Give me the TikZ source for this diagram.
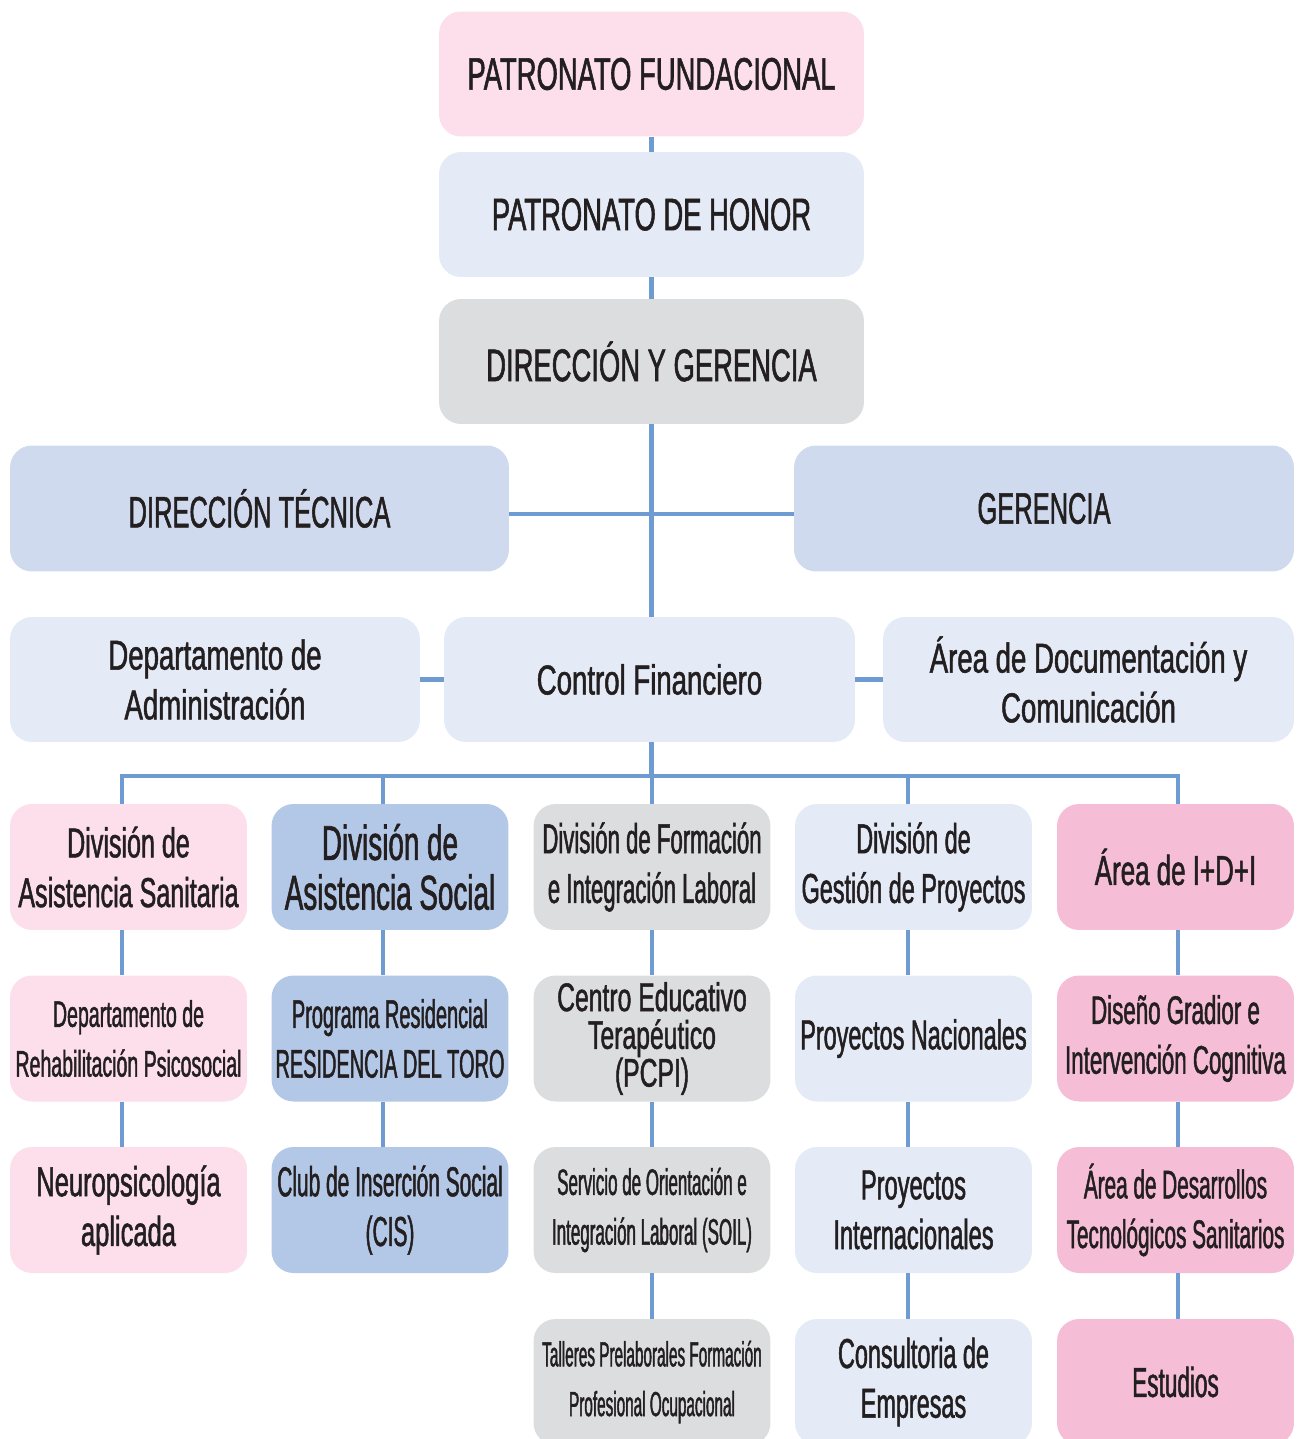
\documentclass[tikz,border=0pt]{standalone}
\usepackage{fontspec}
\setmainfont{Liberation Sans}[FakeBold=1.2]
\newcommand\ff[3]{\fontsize{#1}{#3}\selectfont\addfontfeature{FakeStretch=#2}}
\definecolor{pinkL}{HTML}{FCDFEA}
\definecolor{pinkD}{HTML}{F6BDD6}
\definecolor{blueL}{HTML}{E4EAF6}
\definecolor{blueM}{HTML}{CFDAEE}
\definecolor{blueD}{HTML}{B3C7E6}
\definecolor{grayL}{HTML}{DCDDDF}
\definecolor{linec}{HTML}{6F9BD3}
\definecolor{ink}{HTML}{231F20}
\begin{document}
\begin{tikzpicture}[x=0.02cm,y=-0.02cm,
    box/.style={rounded corners=0.44cm, minimum width=4.74cm, minimum height=2.52cm,
        align=center, inner sep=0pt, text=ink},
    wide/.style={box, minimum width=8.5cm, minimum height=2.5cm, font=\ff{26pt}{0.6}{30pt}},
    mid/.style={box, minimum width=8.2cm, minimum height=2.5cm, fill=blueL, font=\ff{23.8pt}{0.66}{28.3pt}},
    link/.style={draw=linec, line width=2.3pt}]
    \useasboundingbox (0,0) rectangle (1300,1439);
    \clip (0,0) rectangle (1300,1439);
    % top
    \node[wide, fill=pinkL] (pf) at (651.5,74) {PATRONATO FUNDACIONAL};
    \node[wide, fill=blueL] (ph) at (651.5,214.5) {PATRONATO DE HONOR};
    \node[wide, fill=grayL] (dg) at (651.5,361.5) {DIRECCIÓN Y GERENCIA};
    \node[box, minimum width=9.98cm, fill=blueM, font=\ff{25pt}{0.58}{30pt}] (dt) at (259.5,508.5) {DIRECCIÓN TÉCNICA};
    \node[box, minimum width=10cm, fill=blueM, font=\ff{25pt}{0.58}{30pt}] (ger) at (1044,508.5) {GERENCIA};
    \node[mid] (adm) at (215,679.5) {Departamento de\\Administración};
    \node[mid, minimum width=8.22cm] (cf) at (649.5,679.5) {Control Financiero};
    \node[mid, minimum width=8.22cm] (doc) at (1088.5,679.5) {Área de Documentación y\\Comunicación};
    % columns
    \node[box, fill=pinkL, font=\ff{23.8pt}{0.6}{28.3pt}] (sanit) at (128.5,867) {División de\\Asistencia Sanitaria};
    \node[box, fill=pinkL, font=\ff{21pt}{0.53}{28.3pt}] (rehab) at (128.5,1038.5) {Departamento de\\Rehabilitación Psicosocial};
    \node[box, fill=pinkL, font=\ff{23.8pt}{0.61}{28.3pt}] (neuro) at (128.5,1210) {Neuropsicología\\aplicada};
    \node[box, fill=blueD, font=\ff{27.8pt}{0.57}{28.3pt}] (social) at (390,867) {División de\\Asistencia Social};
    \node[box, fill=blueD, font=\ff{22.7pt}{0.5}{28.3pt}] (resid) at (390,1038.5) {Programa Residencial\\RESIDENCIA DEL TORO};
    \node[box, fill=blueD, font=\ff{23.8pt}{0.5}{28.3pt}] (club) at (390,1210) {Club de Inserción Social\\(CIS)};
    \node[box, fill=grayL, font=\ff{23.8pt}{0.53}{28.3pt}] (form) at (652,867) {División de Formación\\e Integración Laboral};
    \node[box, fill=grayL, font=\ff{22.7pt}{0.62}{21.5pt}] (cet) at (652,1038.5) {Centro Educativo\\Terapéutico\\(PCPI)};
    \node[box, fill=grayL, font=\ff{21pt}{0.46}{28.3pt}] (soil) at (652,1210) {Servicio de Orientación e\\Integración Laboral (SOIL)};
    \node[box, fill=grayL, font=\ff{19.8pt}{0.44}{28.3pt}] (tall) at (652,1382) {Talleres Prelaborales Formación\\Profesional Ocupacional};
    \node[box, fill=blueL, font=\ff{23.8pt}{0.56}{28.3pt}] (gest) at (913.5,867) {División de\\Gestión de Proyectos};
    \node[box, fill=blueL, font=\ff{23.8pt}{0.56}{28.3pt}] (nac) at (913.5,1038.5) {Proyectos Nacionales};
    \node[box, fill=blueL, font=\ff{23.8pt}{0.565}{28.3pt}] (inter) at (913.5,1210) {Proyectos\\Internacionales};
    \node[box, fill=blueL, font=\ff{23.8pt}{0.56}{28.3pt}] (cons) at (913.5,1382) {Consultoria de\\Empresas};
    \node[box, fill=pinkD, font=\ff{23.8pt}{0.62}{28.3pt}] (idi) at (1175.5,867) {Área de I+D+I};
    \node[box, fill=pinkD, font=\ff{22.7pt}{0.56}{28.3pt}] (grad) at (1175.5,1038.5) {Diseño Gradior e\\Intervención Cognitiva};
    \node[box, fill=pinkD, font=\ff{22.7pt}{0.52}{28.3pt}] (desa) at (1175.5,1210) {Área de Desarrollos\\Tecnológicos Sanitarios};
    \node[box, fill=pinkD, font=\ff{23.8pt}{0.54}{28.3pt}] (est) at (1175.5,1382) {Estudios};
    % connectors
    \coordinate (bus) at (651.5,776);
    \draw[link] (pf) -- (ph);
    \draw[link] (ph) -- (dg);
    \draw[link] (dg.south) -- (bus |- cf.north);
    \draw[link] ([yshift=-0.11cm]dt.east) -- ([yshift=-0.11cm]ger.west);
    \draw[link] (adm) -- (cf);
    \draw[link] (cf) -- (doc);
    \draw[link] (bus |- cf.south) -- (bus);
    \foreach \n/\dx in {sanit/-0.13,social/-0.14,form/0,gest/-0.11,idi/0.05}
        \draw[link] ([xshift=\dx cm]\n.north) |- (bus);
    \foreach \a/\b/\dx in {sanit/rehab/-0.13,rehab/neuro/-0.13,social/resid/-0.14,resid/club/-0.14,
        form/cet/0,cet/soil/0,soil/tall/0,gest/nac/-0.11,nac/inter/-0.11,inter/cons/-0.11,
        idi/grad/0.05,grad/desa/0.05,desa/est/0.05}
        \draw[link] ([xshift=\dx cm]\a.south) -- ([xshift=\dx cm]\b.north);
\end{tikzpicture}
\end{document}
